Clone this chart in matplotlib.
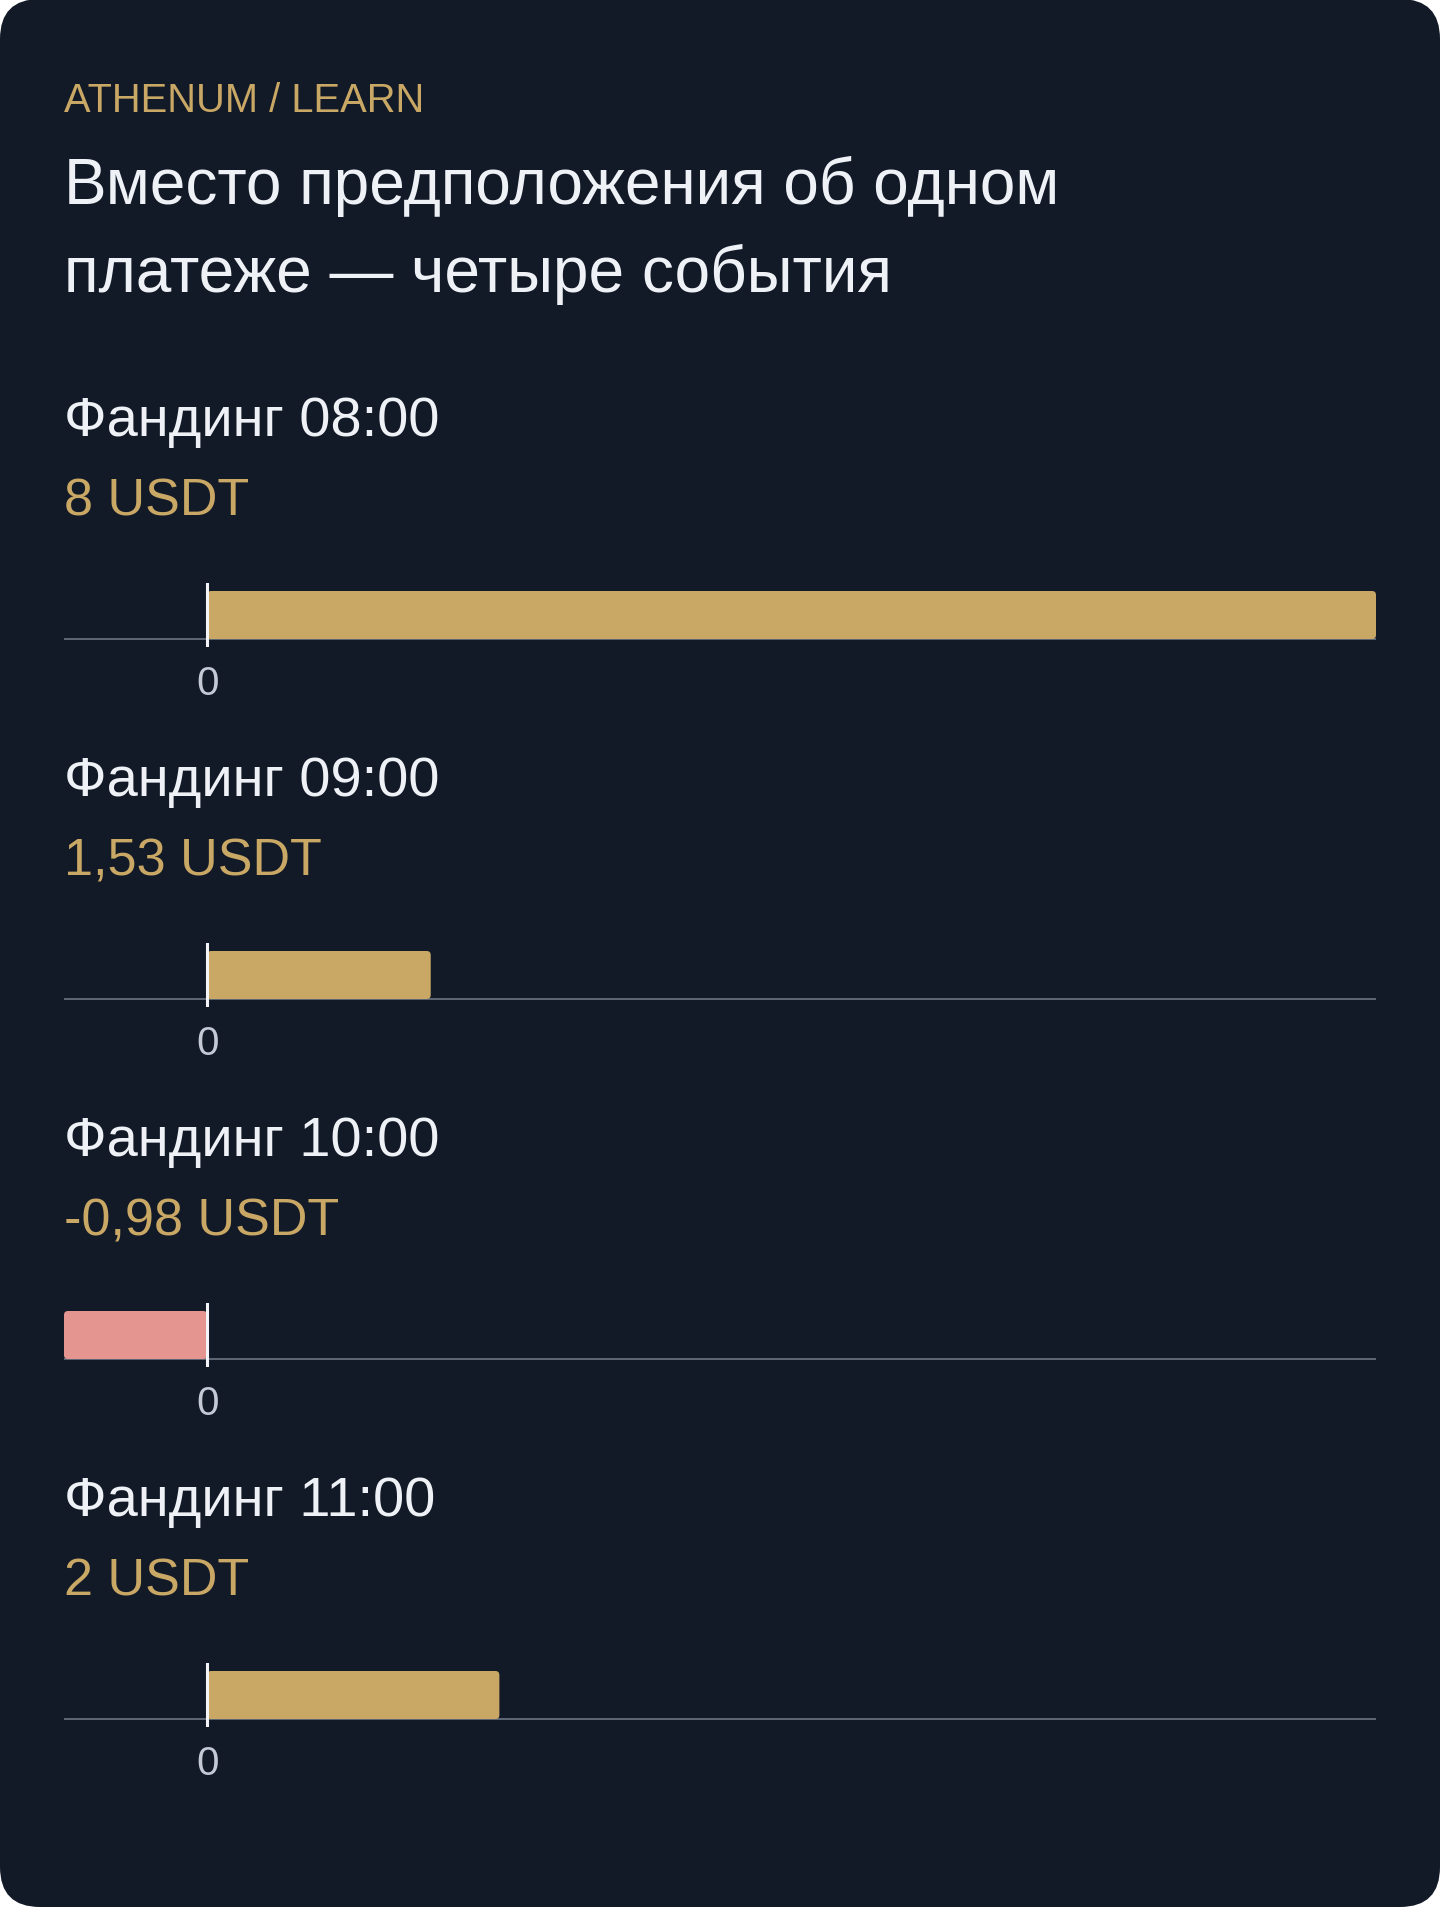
import matplotlib
matplotlib.use("Agg")
import matplotlib.pyplot as plt
from matplotlib.patches import FancyBboxPatch

plt.rcParams['font.family'] = ['Liberation Sans', 'DejaVu Sans']

# ---- data ----
brand = "ATHENUM / LEARN"
title_lines = ["Вместо предположения об одном", "платеже — четыре события"]
labels = ["Фандинг 08:00", "Фандинг 09:00", "Фандинг 10:00", "Фандинг 11:00"]
values = [8, 1.53, -0.98, 2]
value_labels = ["8 USDT", "1,53 USDT", "-0,98 USDT", "2 USDT"]
tick_values = [0]
tick_labels = ["0"]

# ---- style ----
W, H = 1440, 1908
BG = "#131a27"
GOLD = "#c9a765"
RED = "#e4958f"
TITLE = "#eef1f6"
AXIS = "#5e6877"
TICK = "#c3cad5"
ZERO = "#f2f4f8"

fig = plt.figure(figsize=(W / 100, H / 100), dpi=100)
fig.patch.set_facecolor("white")

# card background
bg_ax = fig.add_axes([0, 0, 1, 1])
bg_ax.set_xlim(0, W)
bg_ax.set_ylim(H, 0)
bg_ax.axis("off")
bg_ax.add_patch(FancyBboxPatch((0, 0), W, H, boxstyle="round,pad=0,rounding_size=40",
                               facecolor=BG, edgecolor="none"))

def fx(px):
    return px / W

def fy(py):
    return 1 - py / H

LEFT = 64
fig.text(fx(LEFT), fy(112), brand, color=GOLD, fontsize=28.7, va="baseline", ha="left")
fig.text(fx(LEFT), fy(204), title_lines[0], color=TITLE, fontsize=46, va="baseline", ha="left")
fig.text(fx(LEFT), fy(292), title_lines[1], color=TITLE, fontsize=46, va="baseline", ha="left")

xmin = min(min(values), 0)
xmax = max(values)
AX_L, AX_R = 64, 1376
STEP = 360
RADIUS_PX = 4

for i, (lab, val, vlab) in enumerate(zip(labels, values, value_labels)):
    off = i * STEP
    fig.text(fx(LEFT), fy(436 + off), lab, color=TITLE, fontsize=40.3, va="baseline", ha="left")
    fig.text(fx(LEFT), fy(516 + off), vlab, color=GOLD, fontsize=37.5, va="baseline", ha="left")

    top_px, bot_px = 584 + off, 648 + off
    ax = fig.add_axes([fx(AX_L), fy(bot_px), (AX_R - AX_L) / W, (bot_px - top_px) / H])
    ax.set_facecolor("none")
    ax.set_xlim(xmin, xmax)
    ax.set_ylim(-1 / 6, 7 / 6)
    for s in ax.spines.values():
        s.set_visible(False)
    ax.set_yticks([])
    ax.axhline(0, color=AXIS, lw=1.4, zorder=1)
    bars = ax.barh([0.5], [val], height=1.0, left=0, color=GOLD if val >= 0 else RED, zorder=2)
    # rounded version of each bar, same geometry
    xu = (xmax - xmin) / (AX_R - AX_L)
    yu = (7 / 6 + 1 / 6) / (bot_px - top_px)
    for b in bars:
        b.set_visible(False)
        x0, y0, w, h = b.get_x(), b.get_y(), b.get_width(), b.get_height()
        if w < 0:
            x0, w = x0 + w, -w
        ax.add_patch(FancyBboxPatch((x0, y0), w, h,
                                    boxstyle=f"round,pad=0,rounding_size={RADIUS_PX * xu}",
                                    mutation_aspect=yu / xu,
                                    facecolor=b.get_facecolor(), edgecolor="none", zorder=2))
    ax.axvline(0, color=ZERO, lw=2.2, zorder=3)
    ax.set_xticks(tick_values)
    ax.set_xticklabels(tick_labels, color=TICK, fontsize=29)
    ax.tick_params(axis="x", length=0, pad=12)

fig.savefig("out.png", dpi=100, facecolor="white")
